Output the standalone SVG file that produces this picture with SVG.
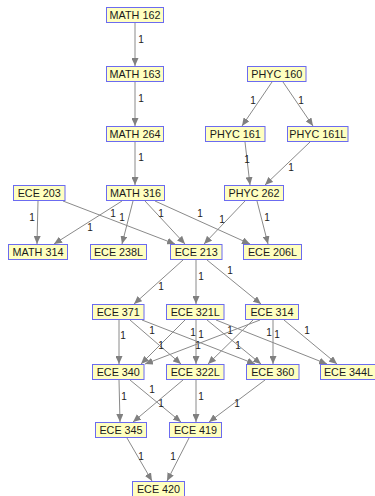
<svg xmlns="http://www.w3.org/2000/svg" width="375" height="496" viewBox="0 0 375 496">
<style>
.n rect{fill:#ffffc0;stroke:#6b6bf0;stroke-width:1}
.n text{font-family:"Liberation Sans",Arial,sans-serif;font-size:10.8px;fill:#1a1a1a;text-anchor:middle}
.e line{stroke:#8a8a8a;stroke-width:1;fill:none;marker-end:url(#ah)}
.e text{font-family:"Liberation Sans",Arial,sans-serif;font-size:10px;fill:#222;text-anchor:middle}
</style>
<defs>
<marker id="ah" markerUnits="userSpaceOnUse" markerWidth="9" markerHeight="7" refX="8" refY="3.5" orient="auto">
<path d="M0,0 L8,3.5 L0,7 z" fill="#808080"/>
</marker>
</defs>
<rect width="375" height="496" fill="#ffffff"/>
<g id="edges" class="e">
<line x1="135" y1="23" x2="135" y2="66"/><text x="141" y="43">1</text>
<line x1="135" y1="82" x2="135" y2="126"/><text x="141" y="102">1</text>
<line x1="135" y1="142" x2="135" y2="185"/><text x="141" y="161">1</text>
<line x1="272" y1="82" x2="242" y2="126"/><text x="253" y="104">1</text>
<line x1="283" y1="82" x2="313" y2="126"/><text x="301" y="104">1</text>
<line x1="245" y1="142" x2="250" y2="185"/><text x="247" y="163">1</text>
<line x1="310" y1="142" x2="265" y2="185"/><text x="291" y="171">1</text>
<line x1="38" y1="201" x2="37" y2="244"/><text x="32" y="221">1</text>
<line x1="63" y1="201" x2="175" y2="244"/><text x="113" y="217">1</text>
<line x1="122" y1="201" x2="54" y2="244"/><text x="90" y="231">1</text>
<line x1="133" y1="201" x2="122" y2="244"/><text x="122" y="221">1</text>
<line x1="145" y1="201" x2="185" y2="244"/><text x="161" y="217">1</text>
<line x1="155" y1="201" x2="250" y2="244"/><text x="200" y="217">1</text>
<line x1="245" y1="201" x2="204" y2="244"/><text x="222" y="223">1</text>
<line x1="257" y1="201" x2="268" y2="244"/><text x="267" y="221">1</text>
<line x1="183" y1="260" x2="134" y2="304"/><text x="161" y="290">1</text>
<line x1="196" y1="260" x2="196" y2="304"/><text x="201" y="280">1</text>
<line x1="207" y1="260" x2="261" y2="304"/><text x="230" y="274">1</text>
<line x1="119" y1="320" x2="119" y2="364"/><text x="123" y="339">1</text>
<line x1="130" y1="320" x2="181" y2="364"/><text x="152" y="334">1</text>
<line x1="142" y1="320" x2="255" y2="364"/><text x="201" y="338">1</text>
<line x1="185" y1="320" x2="141" y2="364"/><text x="161" y="349">1</text>
<line x1="196" y1="320" x2="196" y2="364"/><text x="198" y="349">1</text>
<line x1="207" y1="320" x2="261" y2="364"/><text x="238" y="349">1</text>
<line x1="216" y1="320" x2="327" y2="364"/><text x="277" y="338">1</text>
<line x1="260" y1="320" x2="145" y2="364"/><text x="193" y="336">1</text>
<line x1="253" y1="320" x2="208" y2="364"/><text x="230" y="334">1</text>
<line x1="273" y1="320" x2="273" y2="364"/><text x="269" y="336">1</text>
<line x1="284" y1="320" x2="337" y2="364"/><text x="307" y="334">1</text>
<line x1="119" y1="380" x2="120" y2="422"/><text x="124" y="400">1</text>
<line x1="130" y1="380" x2="181" y2="422"/><text x="161" y="407">1</text>
<line x1="183" y1="380" x2="133" y2="422"/><text x="152" y="393">1</text>
<line x1="196" y1="380" x2="196" y2="422"/><text x="201" y="400">1</text>
<line x1="265" y1="380" x2="209" y2="422"/><text x="237" y="407">1</text>
<line x1="127" y1="438" x2="152" y2="481"/><text x="141" y="460">1</text>
<line x1="189" y1="438" x2="167" y2="481"/><text x="173" y="460">1</text>
</g>
<g id="MATH162" class="n"><rect x="106.5" y="7.5" width="57" height="15"/><text x="135" y="19">MATH 162</text></g>
<g id="MATH163" class="n"><rect x="106.5" y="66.5" width="57" height="15"/><text x="135" y="78">MATH 163</text></g>
<g id="MATH264" class="n"><rect x="106.5" y="126.5" width="57" height="15"/><text x="135" y="138">MATH 264</text></g>
<g id="PHYC160" class="n"><rect x="247.5" y="66.5" width="58.5" height="15"/><text x="276.75" y="78">PHYC 160</text></g>
<g id="PHYC161" class="n"><rect x="205.5" y="126.5" width="59.5" height="15"/><text x="235.25" y="138">PHYC 161</text></g>
<g id="PHYC161L" class="n"><rect x="287.5" y="126.5" width="60.5" height="15"/><text x="317.75" y="138">PHYC 161L</text></g>
<g id="ECE203" class="n"><rect x="13.5" y="185.5" width="51.5" height="15"/><text x="39.25" y="197">ECE 203</text></g>
<g id="MATH316" class="n"><rect x="106.5" y="185.5" width="58" height="15"/><text x="135.5" y="197">MATH 316</text></g>
<g id="PHYC262" class="n"><rect x="224.5" y="185.5" width="59" height="15"/><text x="254" y="197">PHYC 262</text></g>
<g id="MATH314" class="n"><rect x="8.5" y="244.5" width="59" height="15"/><text x="38" y="256">MATH 314</text></g>
<g id="ECE238L" class="n"><rect x="90.5" y="244.5" width="56" height="15"/><text x="118.5" y="256">ECE 238L</text></g>
<g id="ECE213" class="n"><rect x="170.5" y="244.5" width="51.5" height="15"/><text x="196.25" y="256">ECE 213</text></g>
<g id="ECE206L" class="n"><rect x="243.5" y="244.5" width="58" height="15"/><text x="272.5" y="256">ECE 206L</text></g>
<g id="ECE371" class="n"><rect x="92.5" y="304.5" width="51.5" height="15"/><text x="118.25" y="316">ECE 371</text></g>
<g id="ECE321L" class="n"><rect x="166.5" y="304.5" width="57.5" height="15"/><text x="195.25" y="316">ECE 321L</text></g>
<g id="ECE314" class="n"><rect x="245.5" y="304.5" width="53" height="15"/><text x="272" y="316">ECE 314</text></g>
<g id="ECE340" class="n"><rect x="92.5" y="364.5" width="51.5" height="15"/><text x="118.25" y="376">ECE 340</text></g>
<g id="ECE322L" class="n"><rect x="166.5" y="364.5" width="57.5" height="15"/><text x="195.25" y="376">ECE 322L</text></g>
<g id="ECE360" class="n"><rect x="246.5" y="364.5" width="52.5" height="15"/><text x="272.75" y="376">ECE 360</text></g>
<g id="ECE344L" class="n"><rect x="320.5" y="364.5" width="56" height="15"/><text x="348.5" y="376">ECE 344L</text></g>
<g id="ECE345" class="n"><rect x="95.5" y="422.5" width="51" height="15"/><text x="121" y="434">ECE 345</text></g>
<g id="ECE419" class="n"><rect x="169.5" y="422.5" width="52" height="15"/><text x="195.5" y="434">ECE 419</text></g>
<g id="ECE420" class="n"><rect x="132.5" y="481.5" width="52" height="15"/><text x="158.5" y="493">ECE 420</text></g>
</svg>
